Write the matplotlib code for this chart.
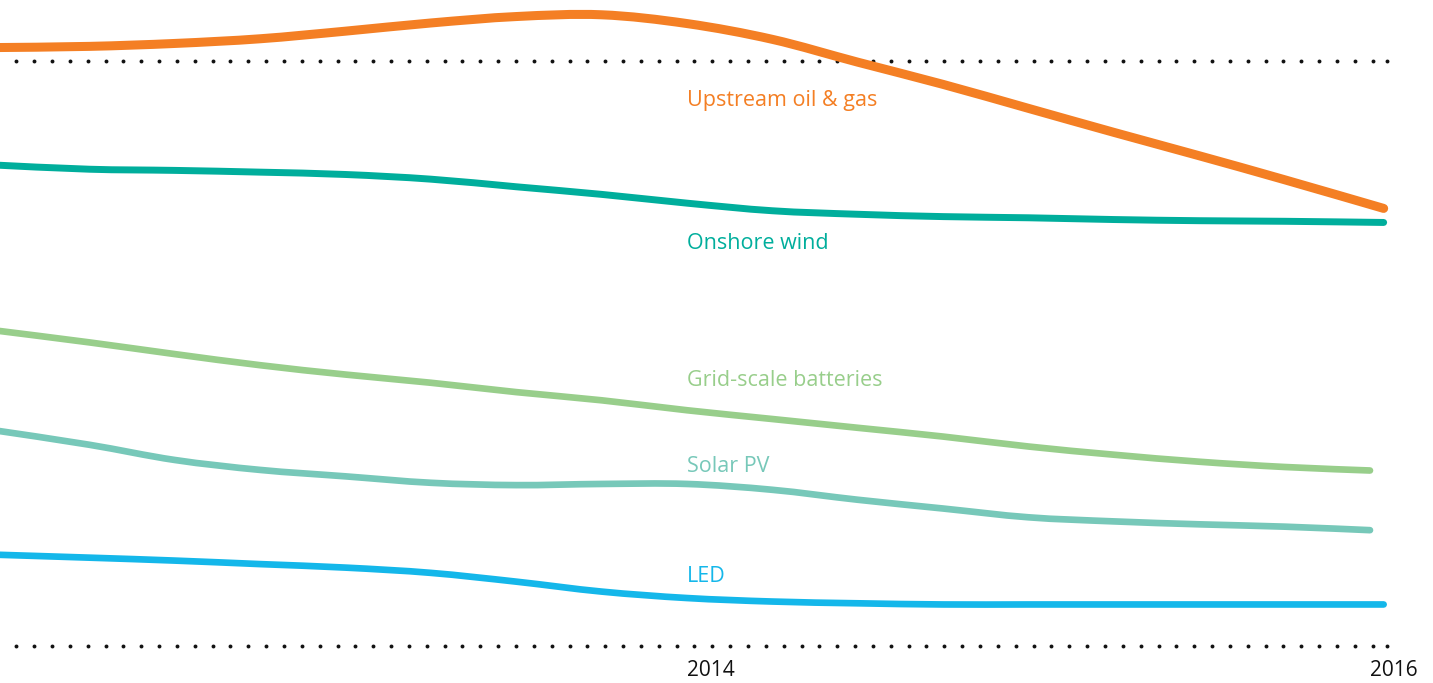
import matplotlib
matplotlib.use("Agg")
import matplotlib.pyplot as plt
import numpy as np
from matplotlib.path import Path
from matplotlib.patches import PathPatch

# ---- data (index) ----
years = [2011.98, 2012.25, 2012.5, 2012.75, 2013.0, 2013.25, 2013.5, 2013.75,
         2014.0, 2014.25, 2014.5, 2014.75, 2015.0, 2015.25, 2015.5, 2015.75, 2016.0]
years_ext = [2011.98, 2012.25, 2012.5, 2012.75, 2013.0, 2013.25, 2013.5, 2013.75,
             2014.0, 2014.25, 2014.5, 2014.75, 2015.0, 2015.25, 2015.5, 2015.75, 2016.04]

upstream = [102.3, 102.5, 103.0, 103.8, 105.1, 106.5, 107.6, 107.9,
            106.4, 103.7, 99.8, 96.0, 91.9, 87.8, 83.8, 79.7, 74.8]
onshore = [82.2, 81.5, 81.3, 81.0, 80.6, 79.8, 78.5, 77.2,
           75.7, 74.4, 73.8, 73.4, 73.2, 72.9, 72.7, 72.6, 72.4]
batteries = [53.9, 51.9, 49.9, 48.0, 46.4, 45.0, 43.4, 42.0,
             40.3, 38.8, 37.3, 35.8, 34.1, 32.7, 31.5, 30.6, 30.0]
solar = [36.8, 34.4, 31.8, 30.1, 29.0, 27.9, 27.5, 27.7,
         27.7, 26.7, 25.0, 23.5, 22.0, 21.3, 20.8, 20.4, 19.8]
led = [15.6, 15.1, 14.6, 14.0, 13.4, 12.5, 11.0, 9.3,
       8.2, 7.6, 7.3, 7.1, 7.1, 7.1, 7.1, 7.1, 7.1]

series_names = ["Upstream oil & gas", "Onshore wind", "Grid-scale batteries", "Solar PV", "LED"]
label_values = [93.3, 68.8, 45.4, 30.7, 11.9]
tick_years = [2014, 2016]
tick_labels = ["2014", "2016"]
grid_values = [0, 100]

colors = ["#F47F24", "#00AE9C", "#98CE8B", "#77C8B9", "#14B7EA"]

plt.rcParams['font.family'] = ['Open Sans', 'DejaVu Sans']

PX_PER_YEAR = 341.5
X0 = 2014.0 - 687 / PX_PER_YEAR

fig = plt.figure(figsize=(14.33, 6.83), dpi=100)
ax = fig.add_axes([0, 0, 1, 1])
ax.set_xlim(X0, X0 + 1433 / PX_PER_YEAR)
ax.set_ylim((646 - 683) / 5.85, 646 / 5.85)
ax.axis("off")

# dotted reference lines (decoration): dots every ~17.85 px plus an end dot
dot_x = list(X0 + np.arange(16.3, 1373.0, 17.847) / PX_PER_YEAR) + [X0 + 1386.7 / PX_PER_YEAR]
for gv in grid_values:
    ax.plot(dot_x, [gv] * len(dot_x), linestyle="none", marker="o",
            ms=2.8, mew=0, color="#111111", zorder=1)


def smooth_path(xs, ys):
    """Catmull-Rom curve through the data points, as cubic Bezier segments."""
    pts = list(zip(xs, ys))
    n = len(pts)
    verts = [pts[0]]
    codes = [Path.MOVETO]
    for i in range(n - 1):
        p0 = pts[i - 1] if i > 0 else pts[i]
        p1 = pts[i]
        p2 = pts[i + 1]
        p3 = pts[i + 2] if i + 2 < n else pts[i + 1]
        c1 = (p1[0] + (p2[0] - p0[0]) / 6, p1[1] + (p2[1] - p0[1]) / 6)
        c2 = (p2[0] - (p3[0] - p1[0]) / 6, p2[1] - (p3[1] - p1[1]) / 6)
        verts += [c1, c2, p2]
        codes += [Path.CURVE4] * 3
    return Path(verts, codes)


data = [(years_ext, upstream, 6.5), (years_ext, onshore, 5.0),
        (years, batteries, 4.8), (years, solar, 4.8), (years_ext, led, 4.8)]
for (xs, ys, lw), c in zip(data, colors):
    patch = PathPatch(smooth_path(xs, ys), facecolor="none", edgecolor=c,
                      lw=lw, capstyle="round", joinstyle="round", zorder=3)
    ax.add_patch(patch)

for name, lv, c in zip(series_names, label_values, colors):
    ax.text(2014.0, lv, name, color=c, fontsize=15.5, ha="left", va="center")

for ty, tl in zip(tick_years, tick_labels):
    ax.text(ty, (646 - 671) / 5.85, tl, color="#111111", fontsize=15,
            ha="left", va="center")

fig.savefig("out.png", dpi=100)
